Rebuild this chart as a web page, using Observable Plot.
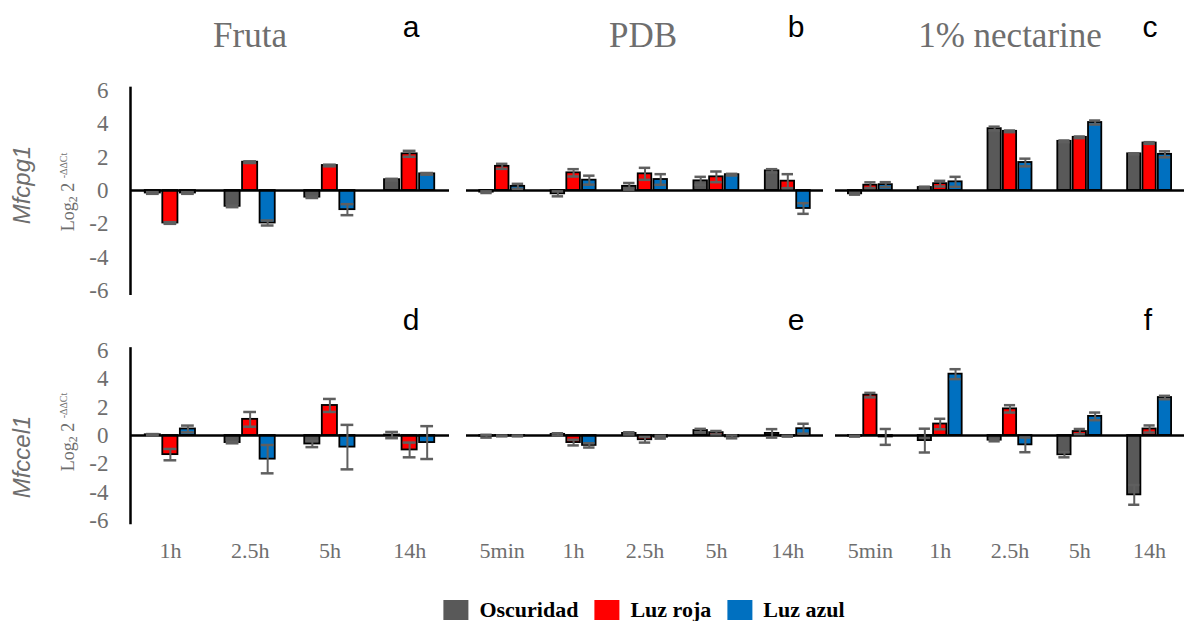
<!DOCTYPE html>
<html><head><meta charset="utf-8">
<script src="https://cdn.jsdelivr.net/npm/d3@7"></script>
<script src="https://cdn.jsdelivr.net/npm/@observablehq/plot@0.6"></script>
<style>
body{margin:0;background:#fff;}
#wrap{position:relative;width:1184px;height:621px;overflow:hidden;background:#fff;}
#wrap svg, #wrap svg text{font-family:"Liberation Serif","Times New Roman",serif !important;}
.abs{position:absolute;}
.title{font-family:"Liberation Serif",serif;font-size:35px;color:#6e6e6e;line-height:1;transform:translateX(-50%);white-space:nowrap;}
.letter{font-family:"Liberation Sans",sans-serif;font-size:30px;color:#000;line-height:1;transform:translateX(-50%);}
.gene{font-family:"Liberation Sans",sans-serif;font-style:italic;font-size:24px;color:#6e6e6e;transform:translate(-50%,-50%) rotate(-90deg);white-space:nowrap;line-height:1;}
.ylab{font-family:"Liberation Serif",serif;font-size:18px;color:#6e6e6e;transform:translate(-50%,-50%) rotate(-90deg);white-space:nowrap;line-height:1;}
.ylab sub{font-size:12px;vertical-align:-3px;}
.ylab sup{font-size:10px;vertical-align:7px;}
#legend{position:absolute;top:597px;left:644px;transform:translateX(-50%);display:flex;align-items:center;font-family:"Liberation Serif",serif;font-weight:bold;font-size:22px;color:#000;white-space:nowrap;}
#legend .sw{display:inline-block;width:25px;height:20px;margin-right:11px;}
#legend .item{display:flex;align-items:center;margin-right:16px;}
#legend .item:last-child{margin-right:0;}
</style>
</head><body>
<div id="wrap"></div>
<script>
// ---------- data ----------
const series = ["Oscuridad", "Luz roja", "Luz azul"];
const seriesColors = ["#595959", "#ff0000", "#0070c0"];
const catsFruta = ["1h", "2.5h", "5h", "14h"];
const catsMedia = ["5min", "1h", "2.5h", "5h", "14h"];
const yTicks = [-6, -4, -2, 0, 2, 4, 6];
const columnTitles = ["Fruta", "PDB", "1% nectarine"];
const panelLetters = ["a", "b", "c", "d", "e", "f"];
const genes = ["Mfcpg1", "Mfccel1"];

// Mfcpg1 - Fruta (a)
const pg1FrutaOsc = [-0.15, -0.95, -0.4, 0.65];
const pg1FrutaRoja = [-1.95, 1.7, 1.5, 2.2];
const pg1FrutaAzul = [-0.15, -1.95, -1.15, 1.0];
const pg1FrutaOscErr = [0.05, 0.05, 0.05, 0.05];
const pg1FrutaRojaErr = [0.05, 0.05, 0.05, 0.18];
const pg1FrutaAzulErr = [0.05, 0.15, 0.33, 0.05];
// Mfcpg1 - PDB (b)
const pg1PdbOsc = [-0.1, -0.2, 0.25, 0.58, 1.18];
const pg1PdbRoja = [1.45, 1.06, 1.0, 0.82, 0.56];
const pg1PdbAzul = [0.25, 0.62, 0.66, 0.95, -1.08];
const pg1PdbOscErr = [0.05, 0.15, 0.2, 0.24, 0.1];
const pg1PdbRojaErr = [0.15, 0.22, 0.36, 0.32, 0.42];
const pg1PdbAzulErr = [0.15, 0.27, 0.32, 0.05, 0.32];
// Mfcpg1 - 1% nectarine (c)
const pg1NectOsc = [-0.2, 0.18, 3.71, 2.95, 2.2];
const pg1NectRoja = [0.32, 0.41, 3.55, 3.19, 2.85];
const pg1NectAzul = [0.35, 0.52, 1.68, 4.08, 2.17];
const pg1NectOscErr = [0.05, 0.05, 0.12, 0.05, 0.03];
const pg1NectRojaErr = [0.17, 0.17, 0.05, 0.05, 0.05];
const pg1NectAzulErr = [0.15, 0.3, 0.23, 0.12, 0.18];
// Mfccel1 - Fruta (d)
const cel1FrutaOsc = [0.05, -0.5, -0.6, 0.03];
const cel1FrutaRoja = [-1.35, 1.14, 2.12, -1.02];
const cel1FrutaAzul = [0.46, -1.67, -0.82, -0.5];
const cel1FrutaOscErr = [0.05, 0.05, 0.22, 0.22];
const cel1FrutaRojaErr = [0.4, 0.52, 0.46, 0.52];
const cel1FrutaAzulErr = [0.24, 1.0, 1.57, 1.16];
// Mfccel1 - PDB (e)
const cel1PdbOsc = [-0.05, 0.08, 0.15, 0.35, 0.15];
const cel1PdbRoja = [-0.03, -0.5, -0.3, 0.2, -0.05];
const cel1PdbAzul = [-0.03, -0.7, -0.12, -0.1, 0.48];
const cel1PdbOscErr = [0.1, 0.08, 0.08, 0.12, 0.3];
const cel1PdbRojaErr = [0.03, 0.2, 0.2, 0.12, 0.03];
const cel1PdbAzulErr = [0.03, 0.15, 0.1, 0.1, 0.35];
// Mfccel1 - 1% nectarine (f)
const cel1NectOsc = [-0.05, -0.36, -0.33, -1.36, -4.19];
const cel1NectRoja = [2.85, 0.81, 1.88, 0.28, 0.46];
const cel1NectAzul = [-0.1, 4.33, -0.66, 1.35, 2.68];
const cel1NectOscErr = [0.03, 0.84, 0.08, 0.18, 0.7];
const cel1NectRojaErr = [0.16, 0.37, 0.26, 0.18, 0.25];
const cel1NectAzulErr = [0.56, 0.35, 0.52, 0.27, 0.12];

// ---------- layout ----------
const wrap = document.getElementById("wrap");
const GRAY = "#6e6e6e";
const STEP = 0.22, BW = 0.19, CAP = 0.16;

function buildRows(cats, vals, errs) {
  const out = [];
  cats.forEach((c, i) => series.forEach((s, j) => out.push({i, j, cat: c, series: s, value: vals[j][i], err: errs[j][i]})));
  return out;
}

function panel(cfg) {
  const {cats, vals, errs, left, top, width, height, mL, mR, mT, mB, showY, showX} = cfg;
  const rows = buildRows(cats, vals, errs);
  const cx = d => d.i + 0.5 + (d.j - 1) * STEP;
  const marks = [
    Plot.rectY(rows, {x1: d => cx(d) - BW / 2, x2: d => cx(d) + BW / 2, y1: 0, y2: "value", fill: "series", stroke: "black", strokeWidth: 1.8}),
    Plot.ruleY([0], {stroke: "black", strokeWidth: 2.5}),
    Plot.ruleX(rows, {x: cx, y1: d => d.value - d.err, y2: d => d.value + d.err, stroke: "#5f5f5f", strokeWidth: 2}),
    Plot.ruleY(rows, {y: d => d.value + d.err, x1: d => cx(d) - CAP / 2, x2: d => cx(d) + CAP / 2, stroke: "#5f5f5f", strokeWidth: 2.5}),
    Plot.ruleY(rows, {y: d => d.value - d.err, x1: d => cx(d) - CAP / 2, x2: d => cx(d) + CAP / 2, stroke: "#5f5f5f", strokeWidth: 2.5})
  ];
  if (showY) {
    marks.push(Plot.ruleX([0], {y1: -6.3, y2: 6.2, stroke: "black", strokeWidth: 2.5}));
    marks.push(Plot.axisY({ticks: yTicks, tickFormat: d => String(d), tickSize: 0, tickPadding: 22, fontSize: 23, label: null, color: GRAY}));
  }
  if (showX) {
    marks.push(Plot.axisX({ticks: cats.map((c, i) => i + 0.5), tickFormat: d => cats[Math.round(d - 0.5)], tickSize: 0, tickPadding: 22, fontSize: 22, label: null, color: GRAY}));
  }
  const opts = {
    width, height, marginLeft: mL, marginRight: mR, marginTop: mT, marginBottom: mB,
    x: {type: "linear", domain: [0, cats.length], label: null},
    y: {domain: [-6, 6], label: null},
    color: {domain: series, range: seriesColors},
    style: {fontFamily: "Liberation Serif", background: "transparent", overflow: "visible"},
    marks
  };
  if (!showX) opts.x.axis = null;
  if (!showY) opts.y.axis = null;
  const svg = Plot.plot(opts);
  svg.querySelectorAll("g[aria-label$='tick label']").forEach(g => g.setAttribute("font-family", "Liberation Serif"));
  const div = document.createElement("div");
  div.className = "abs";
  div.style.left = left + "px";
  div.style.top = top + "px";
  div.appendChild(svg);
  wrap.appendChild(div);
}

const cols = [
  {left: 0, width: 460, mL: 130, mR: 11},
  {left: 460, width: 370, mL: 6, mR: 7},
  {left: 830, width: 354, mL: 5, mR: 0}
];
const rowsCfg = [
  {top: 70, height: 240, mT: 20, mB: 20, showX: false},
  {top: 330, height: 240, mT: 20, mB: 50, showX: true}
];
const panelData = [
  [
    {cats: catsFruta, vals: [pg1FrutaOsc, pg1FrutaRoja, pg1FrutaAzul], errs: [pg1FrutaOscErr, pg1FrutaRojaErr, pg1FrutaAzulErr]},
    {cats: catsMedia, vals: [pg1PdbOsc, pg1PdbRoja, pg1PdbAzul], errs: [pg1PdbOscErr, pg1PdbRojaErr, pg1PdbAzulErr]},
    {cats: catsMedia, vals: [pg1NectOsc, pg1NectRoja, pg1NectAzul], errs: [pg1NectOscErr, pg1NectRojaErr, pg1NectAzulErr]}
  ],
  [
    {cats: catsFruta, vals: [cel1FrutaOsc, cel1FrutaRoja, cel1FrutaAzul], errs: [cel1FrutaOscErr, cel1FrutaRojaErr, cel1FrutaAzulErr]},
    {cats: catsMedia, vals: [cel1PdbOsc, cel1PdbRoja, cel1PdbAzul], errs: [cel1PdbOscErr, cel1PdbRojaErr, cel1PdbAzulErr]},
    {cats: catsMedia, vals: [cel1NectOsc, cel1NectRoja, cel1NectAzul], errs: [cel1NectOscErr, cel1NectRojaErr, cel1NectAzulErr]}
  ]
];
rowsCfg.forEach((r, ri) => cols.forEach((c, ci) => {
  panel(Object.assign({}, panelData[ri][ci], c, r, {showY: ci === 0}));
}));

function addText(cls, html, x, y) {
  const d = document.createElement("div");
  d.className = "abs " + cls;
  d.style.left = x + "px";
  d.style.top = y + "px";
  d.innerHTML = html;
  wrap.appendChild(d);
}
// column titles
const titleX = [250, 643, 1010];
columnTitles.forEach((t, i) => addText("title", t, titleX[i], 18));
// panel letters
const letterX = [411, 796, 1150, 411, 796, 1148];
panelLetters.forEach((l, i) => addText("letter", l, letterX[i], i < 3 ? 12 : 305));
// gene labels and y labels
addText("gene", genes[0], 22, 185);
addText("gene", genes[1], 22, 457);
const ylabHtml = "Log<sub>2</sub> 2 <sup>-ΔΔCt</sup>";
addText("ylab", ylabHtml, 69, 192);
addText("ylab", ylabHtml, 69, 432);

// legend
const leg = document.createElement("div");
leg.id = "legend";
series.forEach((s, i) => {
  const it = document.createElement("div");
  it.className = "item";
  it.innerHTML = `<span class="sw" style="background:${seriesColors[i]}"></span><span>${s}</span>`;
  leg.appendChild(it);
});
wrap.appendChild(leg);
</script>
</body></html>
